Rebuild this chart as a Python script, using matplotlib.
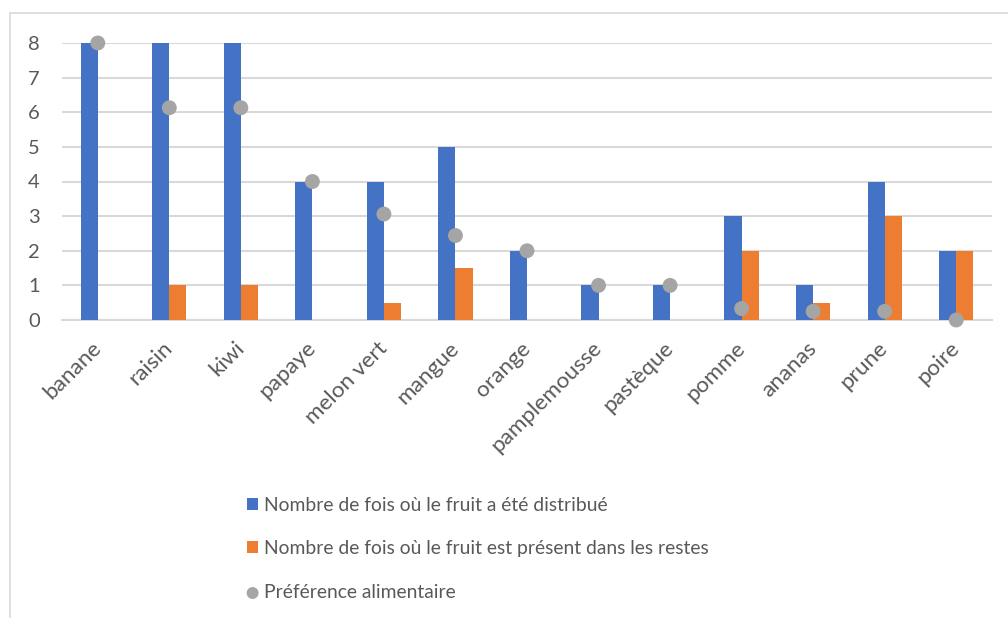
import numpy as np
import matplotlib
matplotlib.use("Agg")
import matplotlib.pyplot as plt
from matplotlib.patches import Rectangle

plt.rcParams['font.family'] = ['Lato', 'DejaVu Sans']

fruits = ['banane', 'raisin', 'kiwi', 'papaye', 'melon vert', 'mangue', 'orange',
          'pamplemousse', 'pastèque', 'pomme', 'ananas', 'prune', 'poire']
distribue = [8, 8, 8, 4, 4, 5, 2, 1, 1, 3, 1, 4, 2]
restes = [0, 1, 1, 0, 0.5, 1.5, 0, 0, 0, 2, 0.5, 3, 2]
preference = [8, 6.13, 6.13, 4, 3.06, 2.44, 2, 1, 1, 0.33, 0.25, 0.25, 0]

blue = '#4472C4'
orange = '#ED7D31'
gray = '#A5A5A5'
text_col = '#595959'
grid_col = '#D9D9D9'

fig = plt.figure(figsize=(10.08, 6.18), dpi=100)
ax = fig.add_axes([62/1008, 298/618, 930/1008, 277/618])

# chart frame
fig.patches.append(Rectangle((10/1008, -0.1), 1.2, (618-13)/618 + 0.1,
                             transform=fig.transFigure, fill=False,
                             edgecolor=grid_col, linewidth=1.2))

x = np.arange(len(fruits))
w = 0.24
b1 = ax.bar(x - w/2, distribue, w, color=blue, zorder=3,
            label='Nombre de fois où le fruit a été distribué')
b2 = ax.bar(x + w/2, restes, w, color=orange, zorder=3,
            label='Nombre de fois où le fruit est présent dans les restes')
sc = ax.scatter(x, preference, s=115, color=gray, zorder=4, clip_on=False,
                edgecolors='none', label='Préférence alimentaire')

ax.set_xlim(-0.5, len(fruits) - 0.5)
ax.set_ylim(0, 8)
ax.set_yticks(range(0, 9))
ax.yaxis.grid(True, color=grid_col, linewidth=1.5, zorder=0)
ax.set_axisbelow(True)
for s in ['top', 'left', 'right']:
    ax.spines[s].set_visible(False)
ax.spines['bottom'].set_color(grid_col)
ax.spines['bottom'].set_linewidth(1.5)

ax.tick_params(axis='both', length=0, colors=text_col)
ax.tick_params(axis='y', pad=16, labelsize=14.5)
ax.set_xticks(x)
ax.set_xticklabels(fruits, rotation=45, ha='right', va='center',
                   rotation_mode='anchor', fontsize=16.2)
ax.tick_params(axis='x', pad=18)

leg = fig.legend(handles=[b1, b2, sc], loc='upper left',
                 bbox_to_anchor=(247/1008, 1 - 497/618),
                 borderpad=0, borderaxespad=0,
                 frameon=False, fontsize=13.9, labelcolor=text_col,
                 handlelength=0.58, handleheight=0.58, handletextpad=0.3,
                 labelspacing=1.36, markerscale=0.8)

fig.savefig('out.png', dpi=100)
